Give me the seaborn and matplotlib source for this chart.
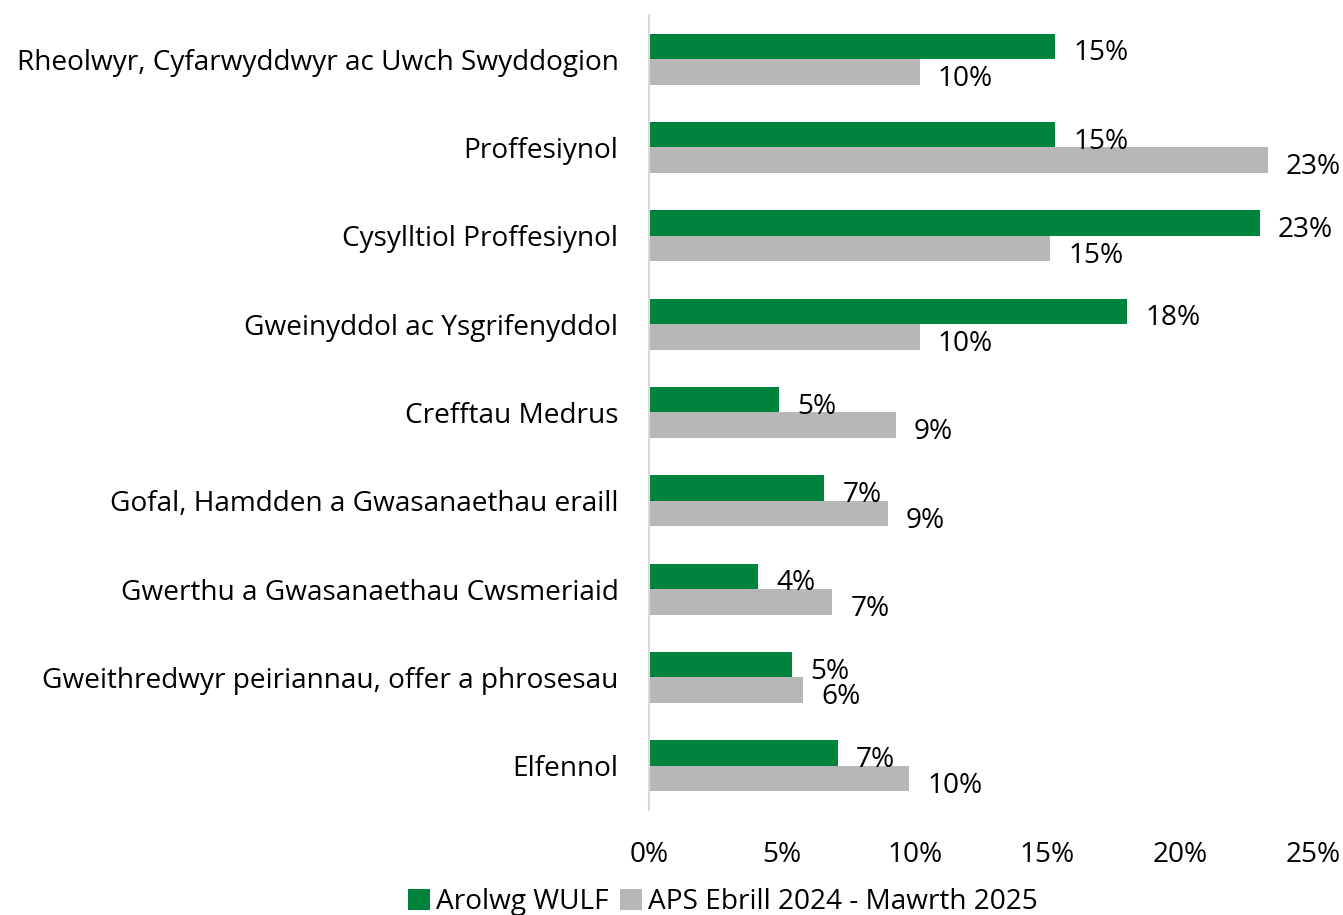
import matplotlib
matplotlib.use("Agg")
import matplotlib.pyplot as plt
import pandas as pd
import seaborn as sns
from matplotlib.ticker import FuncFormatter

categories = [
    "Rheolwyr, Cyfarwyddwyr ac Uwch Swyddogion",
    "Proffesiynol",
    "Cysylltiol Proffesiynol",
    "Gweinyddol ac Ysgrifenyddol",
    "Crefftau Medrus",
    "Gofal, Hamdden a Gwasanaethau eraill",
    "Gwerthu a Gwasanaethau Cwsmeriaid",
    "Gweithredwyr peiriannau, offer a phrosesau",
    "Elfennol",
]
wulf = [15.3, 15.3, 23.0, 18.0, 4.9, 6.6, 4.1, 5.4, 7.1]
aps = [10.2, 23.3, 15.1, 10.2, 9.3, 9.0, 6.9, 5.8, 9.8]
series = ["Arolwg WULF", "APS Ebrill 2024 - Mawrth 2025"]
colors = ["#00843D", "#B7B7B7"]
x_ticks = [0, 5, 10, 15, 20, 25]

df = pd.DataFrame({
    "category": categories * 2,
    "value": wulf + aps,
    "series": [series[0]] * len(categories) + [series[1]] * len(categories),
})

sns.set_theme(style="white")
plt.rcParams["font.family"] = ["Open Sans", "DejaVu Sans"]
plt.rcParams["text.color"] = "black"
plt.rcParams["xtick.color"] = "black"
plt.rcParams["ytick.color"] = "black"

fig = plt.figure(figsize=(13.43, 9.15), dpi=100)
ax = fig.add_axes([0.4832, 0.1148, 0.4945, 0.8688])

sns.barplot(
    data=df, y="category", x="value", hue="series", orient="h",
    palette=colors, width=0.58, saturation=1, linewidth=0, ax=ax, legend=True,
)

fs = 20.2
for container in ax.containers:
    labels = ax.bar_label(
        container, labels=[f"{v:.0f}%" for v in container.datavalues],
        padding=13, fontsize=fs, color="black",
    )
    for lab in labels:
        lab.xyann = (13, -5)

ax.set_xlim(0, 25)
ax.set_ylim(8.5, -0.5)
ax.set_xticks(x_ticks)
ax.xaxis.set_major_formatter(FuncFormatter(lambda v, _: f"{v:.0f}%"))
ax.set_xlabel("")
ax.set_ylabel("")
ax.tick_params(axis="x", labelsize=fs, length=0, pad=22)
ax.tick_params(axis="y", labelsize=fs, length=0, pad=22)

for side in ["top", "right", "bottom"]:
    ax.spines[side].set_visible(False)
ax.spines["left"].set_color("#D9D9D9")
ax.spines["left"].set_linewidth(1.5)

ax.legend(
    loc="center", bbox_to_anchor=(0.538, 0.014), bbox_transform=fig.transFigure,
    ncol=2, frameon=False, fontsize=fs, handlelength=0.8, handleheight=0.8,
    handletextpad=0.2, columnspacing=0.4, borderpad=0,
)

fig.savefig("out.png", dpi=100)
